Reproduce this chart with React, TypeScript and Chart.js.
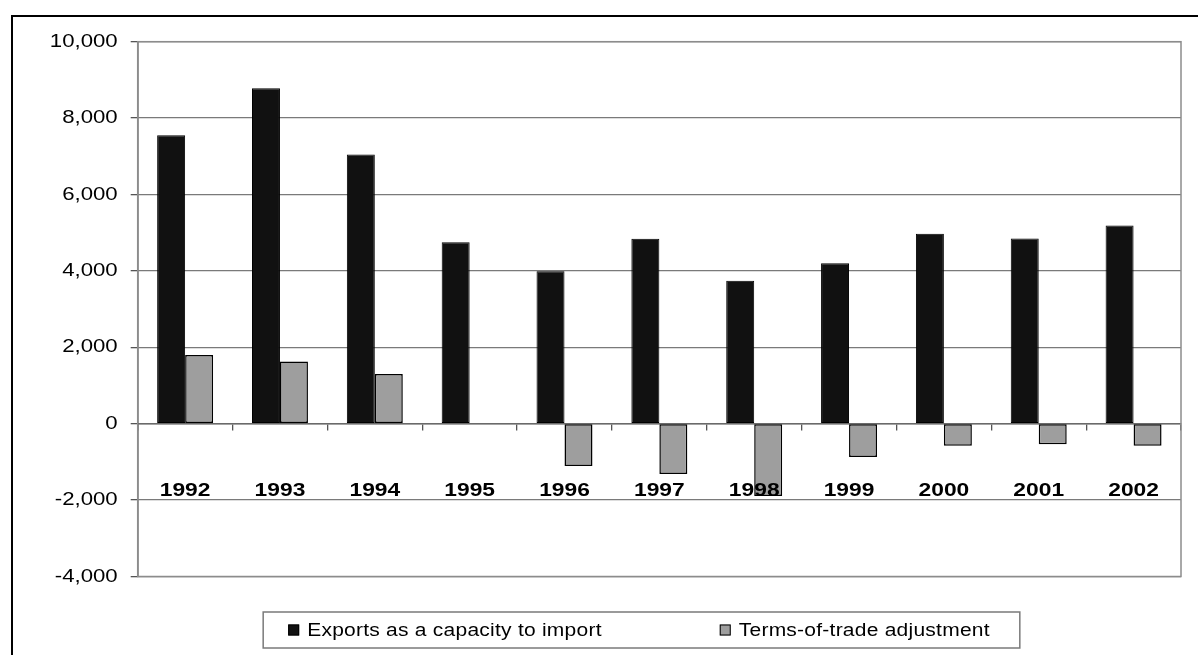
import { useEffect, useRef } from 'react';
import { Chart, registerables } from 'chart.js';

Chart.register(...registerables);

const years = ['1992', '1993', '1994', '1995', '1996', '1997', '1998', '1999', '2000', '2001', '2002'];
const exportsCapacity = [7550, 8780, 7050, 4750, 3990, 4840, 3740, 4200, 4970, 4850, 5190];
const termsOfTrade = [1800, 1630, 1300, 0, -1110, -1320, -1890, -870, -575, -540, -580];
const seriesNames = ['Exports as a capacity to import', 'Terms-of-trade adjustment'];
const yMin = -4000;
const yMax = 10000;
const yStep = 2000;

const FONT = '"Liberation Sans", Arial, sans-serif';
// Horizontal stretch applied to every label, giving the wide lettering of the chart
const TEXT_STRETCH = 1.2;

const wideText = {
  id: 'wideText',
  afterInit(chart: any) {
    const ctx = chart.ctx as CanvasRenderingContext2D;
    if ((ctx as any).__wide) return;
    (ctx as any).__wide = true;
    const base = ctx.fillText.bind(ctx);
    (ctx as any).fillText = (text: string, x: number, y: number) => {
      ctx.save();
      ctx.translate(x, y);
      ctx.scale(TEXT_STRETCH, 1);
      base(text, 0, 0);
      ctx.restore();
    };
  },
};

// Grey frame around the plot area
const plotFrame = {
  id: 'plotFrame',
  beforeDatasetsDraw(chart: any) {
    const { ctx, chartArea: a } = chart;
    ctx.save();
    ctx.strokeStyle = '#8c8c8c';
    ctx.lineWidth = 1.5;
    ctx.strokeRect(a.left, a.top, a.right - a.left, a.bottom - a.top);
    ctx.restore();
  },
};

// Legend in a bordered box under the plot
const boxedLegend = {
  id: 'boxedLegend',
  afterDraw(chart: any) {
    const { ctx, chartArea } = chart;
    ctx.save();
    ctx.font = `17.5px ${FONT}`;
    (ctx as any).letterSpacing = '0.2px';
    const sw = 11;
    const gapText = 8;
    const gapItem = 118;
    const padL = 25;
    const padR = 30;
    const items = chart.data.datasets.map((ds: any) => ({
      label: ds.label as string,
      fill: ds.backgroundColor as string,
      w: ctx.measureText(ds.label).width * TEXT_STRETCH,
    }));
    const content = items.reduce(
      (s: number, it: any, i: number) => s + sw + gapText + it.w + (i ? gapItem : 0),
      0
    );
    const boxW = content + padL + padR;
    const boxH = 36;
    const left = chart.width / 2 - boxW / 2;
    const top = chartArea.bottom + 35.5;
    ctx.strokeStyle = '#7a7a7a';
    ctx.lineWidth = 1.5;
    ctx.strokeRect(left, top, boxW, boxH);
    const cy = top + boxH / 2;
    let x = left + padL;
    ctx.textBaseline = 'middle';
    ctx.textAlign = 'left';
    items.forEach((it: any) => {
      ctx.fillStyle = it.fill;
      ctx.fillRect(x, cy - sw / 2, sw, sw);
      ctx.strokeStyle = '#000';
      ctx.lineWidth = 1;
      ctx.strokeRect(x + 0.5, cy - sw / 2 + 0.5, sw - 1, sw - 1);
      ctx.fillStyle = '#000';
      ctx.fillText(it.label, x + sw + gapText, cy + 1);
      x += sw + gapText + it.w + gapItem;
    });
    ctx.restore();
  },
};

export default function App() {
  const canvasRef = useRef<HTMLCanvasElement | null>(null);

  useEffect(() => {
    if (!canvasRef.current) return;
    const chart = new Chart(canvasRef.current, {
      type: 'bar',
      data: {
        labels: years,
        datasets: [
          {
            label: seriesNames[0],
            data: exportsCapacity,
            backgroundColor: '#111111',
            borderColor: '#000000',
            borderWidth: 1,
            borderSkipped: false,
            categoryPercentage: 0.59,
            barPercentage: 1.0,
          },
          {
            label: seriesNames[1],
            data: termsOfTrade,
            backgroundColor: '#9e9e9e',
            borderColor: '#000000',
            borderWidth: 1.5,
            borderSkipped: false,
            categoryPercentage: 0.59,
            barPercentage: 1.0,
          },
        ],
      },
      options: {
        responsive: false,
        animation: false,
        layout: { padding: { top: 24.7, left: 0, right: 89, bottom: 120.5 } },
        plugins: {
          legend: { display: false },
          tooltip: { enabled: false },
          title: { display: false },
        },
        scales: {
          x: {
            type: 'category',
            position: { y: 0 } as any,
            offset: true,
            grid: {
              offset: true,
              drawOnChartArea: false,
              drawTicks: true,
              tickLength: 6,
              color: '#555555',
              lineWidth: 1.3,
            },
            border: { display: true, color: '#6a6a6a', width: 1.5 },
            ticks: {
              z: 1,
              autoSkip: false,
              maxRotation: 0,
              minRotation: 0,
              padding: 50,
              color: '#000000',
              font: { family: FONT, size: 19, weight: 'bold' },
            },
          },
          y: {
            min: yMin,
            max: yMax,
            afterFit(scale: any) {
              scale.width = 124.7;
            },
            grid: {
              color: '#7a7a7a',
              lineWidth: 1.3,
              drawTicks: true,
              tickLength: 7,
              tickColor: '#555555',
            },
            border: { display: true, color: '#444444', width: 1.5 },
            ticks: {
              stepSize: yStep,
              padding: 13,
              color: '#000000',
              font: { family: FONT, size: 18.5 },
              callback: (v: any) => Number(v).toLocaleString('en-US'),
            },
          },
        },
      },
      plugins: [wideText, plotFrame, boxedLegend],
    });
    return () => chart.destroy();
  }, []);

  return (
    <div
      style={{
        position: 'fixed',
        left: 0,
        top: 0,
        width: 1198,
        height: 655,
        overflow: 'hidden',
        background: '#fff',
      }}
    >
      <div
        style={{
          position: 'absolute',
          left: 11,
          top: 15,
          width: 1257,
          height: 680,
          border: '2px solid #000',
          background: '#fff',
        }}
      >
        <canvas ref={canvasRef} width={1257} height={680} style={{ display: 'block' }} />
      </div>
    </div>
  );
}
